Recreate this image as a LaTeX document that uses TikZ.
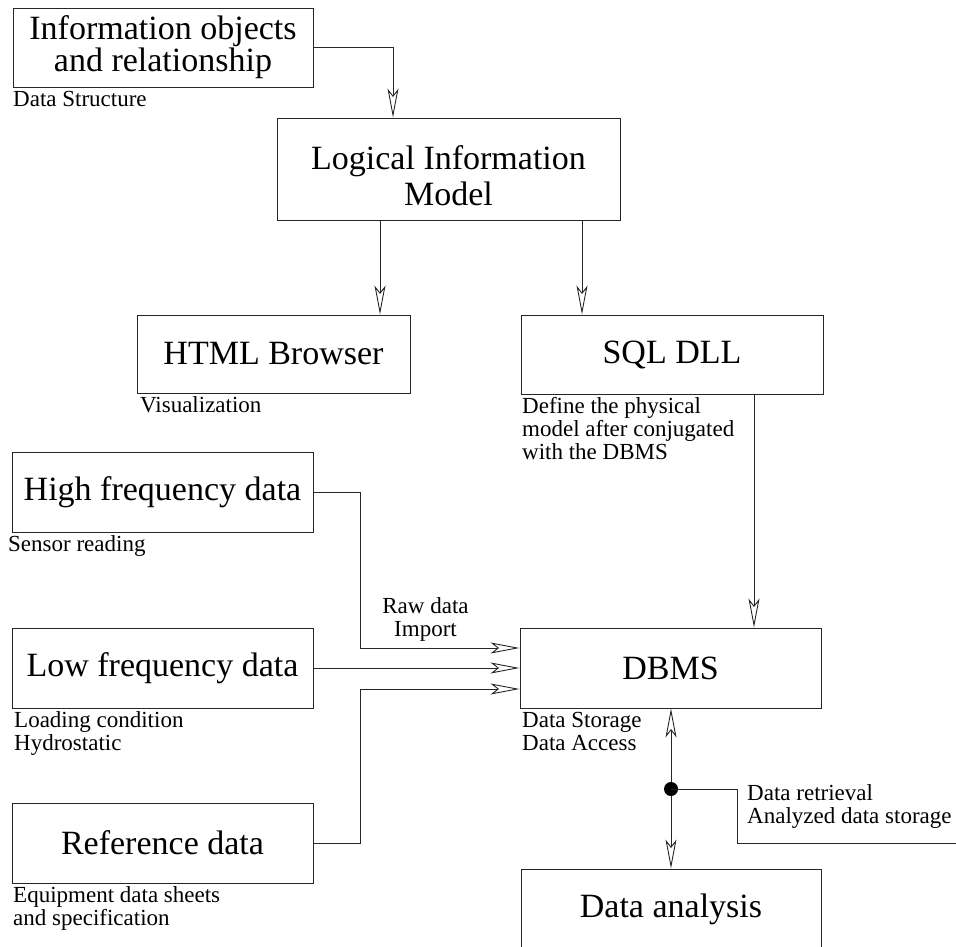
\documentclass[tikz,border=0pt]{standalone}
\usepackage{fontspec}
\setmainfont{Liberation Serif}
\usetikzlibrary{arrows.meta}
\begin{document}
\begin{tikzpicture}[x=1pt,y=-1pt,
  box/.style={draw=black!85, line width=0.9pt, rectangle, inner sep=0pt,
    align=center, font=\fontsize{34}{34}\selectfont},
  note/.style={anchor=base west, inner sep=0pt, font=\fontsize{23}{23}\selectfont},
  wire/.style={draw=black!85, line width=0.9pt},
  tip/.tip={Stealth[open, length=29pt, width=11pt, inset=7pt]},
  arr/.style={wire, -tip},
  ]
\useasboundingbox (0,0) rectangle (956,947);
\clip (0,0) rectangle (956,947);

% boxes
\node[box, minimum width=300pt, minimum height=79pt,
  font=\fontsize{34}{32}\selectfont] (info) at (163,47.5) {Information objects\\and relationship};
\node[box, minimum width=343pt, minimum height=102pt,
  font=\fontsize{34}{36}\selectfont] (logical) at (448.5,169) {\rule{0pt}{38pt}Logical Information\\Model};
\node[box, minimum width=273pt, minimum height=78pt] (html) at (273.5,354) {HTML Browser};
\node[box, minimum width=302pt, minimum height=79pt] (sql) at (672,354.5) {SQL DLL};
\node[box, minimum width=301pt, minimum height=80pt] (high) at (162.5,492) {High frequency data};
\node[box, minimum width=301pt, minimum height=80pt] (low) at (162.5,668) {Low frequency data};
\node[box, minimum width=301pt, minimum height=80pt] (ref) at (162.5,843) {Reference data};
\node[box, minimum width=301pt, minimum height=80pt] (dbms) at (670.5,668) {DBMS};
\node[box, minimum width=300pt, minimum height=80pt] (analysis) at (671,909) {Data analysis};

% captions
\node[note] (capinfo) at (13,107) {Data Structure};
\node[note] (caphtml) at (140,412.5) {Visualization};
\node[note] (capsqla) at (522,413.5) {Define the physical};
\node[note] (capsqlb) at (522,436.5) {model after conjugated};
\node[note] (capsqlc) at (522,459.5) {with the DBMS};
\node[note] (caphigh) at (8,551.5) {Sensor reading};
\node[note] (caplowa) at (14,727.5) {Loading condition};
\node[note] (caplowb) at (14,750.5) {Hydrostatic};
\node[note] (caprefa) at (13,902.5) {Equipment data sheets};
\node[note] (caprefb) at (13,925.5) {and specification};
\node[note] (capdba) at (522,727) {Data Storage};
\node[note] (capdbb) at (522,750) {Data Access};
\node[note, anchor=base] (rawa) at (425.5,613) {Raw data};
\node[note, anchor=base] (rawb) at (425.5,636) {Import};
\node[note] (reta) at (747,800.5) {Data retrieval};
\node[note] (retb) at (747,823.5) {Analyzed data storage};

% routing columns and rows
\coordinate (kinfo) at (393,47.5);
\coordinate (xhtml) at (380,0);
\coordinate (xsql) at (582,0);
\coordinate (xdb) at (754,0);
\coordinate (xan) at (671,0);
\coordinate (rhigh) at (360,648);
\coordinate (rref) at (360,689);

% connectors
\draw[arr] (info.east) -- (kinfo) -- (kinfo |- logical.north);
\draw[arr] (logical.south -| xhtml) -- (html.north -| xhtml);
\draw[arr] (logical.south -| xsql) -- (sql.north -| xsql);
\draw[arr] (sql.south -| xdb) -- (dbms.north -| xdb);
\draw[arr] (high.east) -| (rhigh) -- (rhigh -| dbms.west);
\draw[arr] (low.east) -- (dbms.west);
\draw[arr] (ref.east) -| (rref) -- (rref -| dbms.west);
\draw[wire, tip-tip] (dbms.south -| xan) -- (analysis.north -| xan);

% junction with bracket
\node[circle, fill=black, minimum size=14pt, inner sep=0pt] (hub) at (671,789) {};
\coordinate (ba) at (737,789);
\coordinate (bb) at (737,843);
\coordinate (bc) at (956,843);
\draw[wire] (hub.center) -- (ba) -- (bb) -- (bc);
\end{tikzpicture}
\end{document}
